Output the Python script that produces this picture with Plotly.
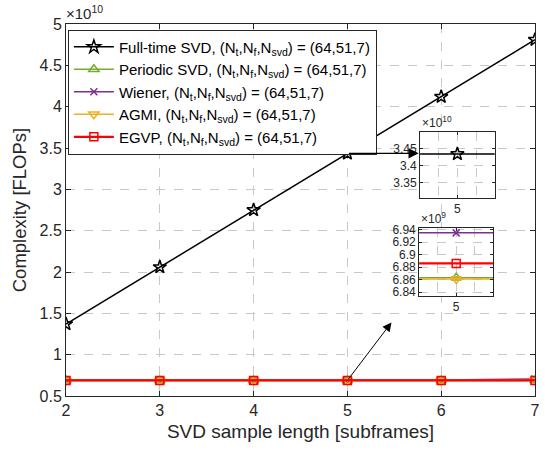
import plotly.graph_objects as go

x = [2, 3, 4, 5, 6, 7]
full_svd = [1.37e10, 2.06e10, 2.75e10, 3.435e10, 4.12e10, 4.81e10]
periodic_svd = [6.863e9, 6.863e9, 6.863e9, 6.863e9, 6.863e9, 6.863e9]
wiener = [6.935e9, 6.935e9, 6.935e9, 6.935e9, 6.935e9, 7.05e9]
agmi = [6.861e9, 6.861e9, 6.861e9, 6.861e9, 6.861e9, 6.861e9]
egvp = [6.886e9, 6.886e9, 6.886e9, 6.886e9, 6.886e9, 6.886e9]

names = ["Full-time SVD", "Periodic SVD", "Wiener", "AGMI", "EGVP"]
series = [full_svd, periodic_svd, wiener, agmi, egvp]
colors = ["#000000", "#77AC30", "#7E2F8E", "#EDB120", "#FF0000"]
symbols = ["star-open", "triangle-up-open", "x-thin-open", "triangle-down-open", "square-open"]
sizes = [10, 9, 7, 9, 8]
widths = [1.5, 1.5, 1.5, 1.5, 2.2]
suffix = ", (N<sub>t</sub>,N<sub>f</sub>,N<sub>svd</sub>) = (64,51,7)"

main_ticks = [0.5e10, 1e10, 1.5e10, 2e10, 2.5e10, 3e10, 3.5e10, 4e10, 4.5e10, 5e10]
main_ticktext = ["0.5", "1", "1.5", "2", "2.5", "3", "3.5", "4", "4.5", "5"]
in1_ticks = [3.35e10, 3.4e10, 3.45e10]
in1_ticktext = ["3.35", "3.4", "3.45"]
in2_ticks = [6.84e9, 6.86e9, 6.88e9, 6.9e9, 6.92e9, 6.94e9]
in2_ticktext = ["6.84", "6.86", "6.88", "6.9", "6.92", "6.94"]

FONT = "Liberation Sans, Arial, sans-serif"
fig = go.Figure()

for i, (nm, ys) in enumerate(zip(names, series)):
    for (xa, ya, show) in [("x", "y", True), ("x2", "y2", False), ("x3", "y3", False)]:
        fig.add_trace(go.Scatter(
            x=x, y=ys, name=nm + suffix, mode="lines+markers",
            line=dict(color=colors[i], width=widths[i]),
            marker=dict(symbol=symbols[i], size=sizes[i], color=colors[i],
                        line=dict(color=colors[i], width=1.5)),
            xaxis=xa, yaxis=ya, showlegend=show, cliponaxis=True,
        ))

axcommon = dict(showline=True, linecolor="#262626", linewidth=1, mirror="ticks",
                ticks="inside", ticklen=5, tickcolor="#262626",
                showgrid=True, gridcolor="#c8c8c8", griddash="dash", gridwidth=1,
                zeroline=False, tickfont=dict(family=FONT, size=16, color="#262626"))
insetax = {**axcommon, "tickfont": dict(family=FONT, size=12, color="#262626"), "ticklen": 3}

fig.update_layout(
    width=545, height=456,
    margin=dict(l=66, r=5, t=24, b=60),
    plot_bgcolor="white", paper_bgcolor="white",
    font=dict(family=FONT, color="#262626"),
    xaxis=dict(**axcommon, range=[2, 7], tickvals=x, domain=[0, 1],
               title=dict(text="SVD sample length [subframes]", font=dict(size=19), standoff=6)),
    yaxis=dict(**axcommon, range=[0.5e10, 5e10], tickvals=main_ticks, ticktext=main_ticktext,
               domain=[0, 1],
               title=dict(text="Complexity [FLOPs]", font=dict(size=18.5), standoff=8)),
    xaxis2=dict(**insetax, range=[4.9998, 5.0002], tickvals=[5], ticktext=["5"],
                domain=[0.755, 0.914], anchor="y2",
                minor=dict(dtick=0.0001, tick0=4.9998, showgrid=True, gridcolor="#c8c8c8",
                           griddash="dash", ticks="")),
    yaxis2=dict(**insetax, range=[3.305e10, 3.5e10], tickvals=in1_ticks, ticktext=in1_ticktext,
                domain=[0.532, 0.710], anchor="x2"),
    xaxis3=dict(**insetax, range=[4.8, 5.2], tickvals=[5], domain=[0.753, 0.911], anchor="y3",
                minor=dict(dtick=0.1, tick0=4.8, showgrid=True, gridcolor="#c8c8c8",
                           griddash="dash", ticks="")),
    yaxis3=dict(**insetax, range=[6.834e9, 6.943e9], tickvals=in2_ticks, ticktext=in2_ticktext,
                domain=[0.269, 0.452], anchor="x3"),
    legend=dict(x=0.004, y=0.985, xanchor="left", yanchor="top",
                bgcolor="white", bordercolor="#262626", borderwidth=1,
                font=dict(family=FONT, size=15, color="#000000"),
                tracegroupgap=0, itemwidth=40),
    showlegend=True,
)

# exponent labels
fig.add_annotation(x=0, y=1, xref="paper", yref="paper", xanchor="left", yanchor="bottom",
                   text="\u00d710<sup>10</sup>", showarrow=False,
                   font=dict(family=FONT, size=15, color="#262626"), xshift=-2)
fig.add_annotation(x=0.755, y=0.710, xref="paper", yref="paper", xanchor="left", yanchor="bottom",
                   text="\u00d710<sup>10</sup>", showarrow=False,
                   font=dict(family=FONT, size=12, color="#262626"))
fig.add_annotation(x=0.753, y=0.452, xref="paper", yref="paper", xanchor="left", yanchor="bottom",
                   text="\u00d710<sup>9</sup>", showarrow=False,
                   font=dict(family=FONT, size=12, color="#262626"))

# arrows
fig.add_annotation(x=5.76, y=full_svd[3], ax=5, ay=full_svd[3], xref="x", yref="y",
                   axref="x", ayref="y", showarrow=True, arrowhead=2, arrowsize=1.7,
                   arrowwidth=1.2, arrowcolor="#000000", text="")
fig.add_annotation(x=5.47, y=1.39e10, ax=5, ay=egvp[3], xref="x", yref="y",
                   axref="x", ayref="y", showarrow=True, arrowhead=2, arrowsize=1.8,
                   arrowwidth=1, arrowcolor="#000000", text="")

fig.write_html("out.html")
